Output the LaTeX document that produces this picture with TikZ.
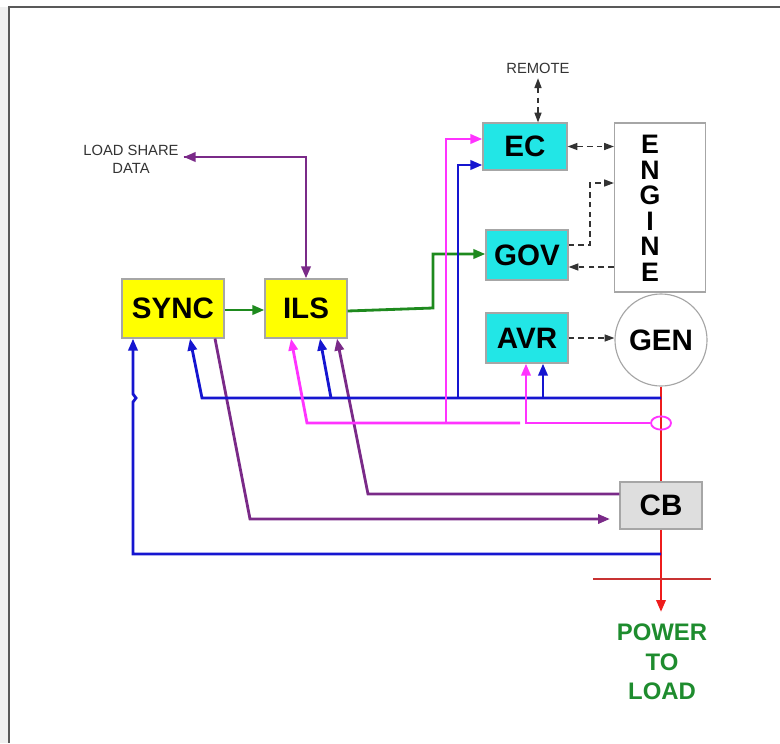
\documentclass[tikz,border=0pt]{standalone}
\usepackage{fontspec}
\setmainfont{Liberation Sans}
\usepackage{tikz}
\usetikzlibrary{arrows.meta, shapes.geometric, positioning, calc}
\definecolor{boxyellow}{HTML}{FFFF00}
\definecolor{boxcyan}{HTML}{22E6E6}
\definecolor{cbgray}{HTML}{DEDEDE}
\definecolor{sigblue}{HTML}{1515D0}
\definecolor{sigmag}{HTML}{FF33FF}
\definecolor{siggreen}{HTML}{1E8A1E}
\definecolor{sigpurp}{HTML}{7A2A88}
\definecolor{sigred}{HTML}{EE1C1C}
\definecolor{busred}{HTML}{C83232}
\definecolor{loadgreen}{HTML}{1E8C2E}
\tikzset{
  tip/.style={-{Triangle[length=8.5pt,width=6.5pt]}},
  dtip/.style={-{Triangle[length=7pt,width=5pt]}},
  ctrlbox/.style={draw=gray!70, line width=0.8pt, inner sep=0pt, font=\fontsize{21}{24}\selectfont\bfseries},
  sigline/.style={line width=2pt},
  dashline/.style={draw=black!80, line width=1pt, dash pattern=on 4pt off 3pt},
  smalltext/.style={font=\fontsize{10.5}{12.8}\selectfont, text=black!80, align=center},
  engletter/.style={font=\fontsize{19}{22}\selectfont\bfseries, inner sep=0pt, text height=13.6pt, text depth=0pt}
}
\begin{document}
\begin{tikzpicture}[x=0.025cm, y=-0.025cm]
\useasboundingbox (0,0) rectangle (780,743);
\fill[black!6] (0,7) rectangle (9,743);
\draw[black!65, line width=1.4pt] (780,7) -- (9,7) -- (9,743);

\node[ctrlbox, fill=boxyellow, minimum width=2.55cm, minimum height=1.475cm] (sync) at (173,308.5) {SYNC};
\node[ctrlbox, fill=boxyellow, minimum width=2.05cm, minimum height=1.475cm] (ils) at (306,308.5) {ILS};
\node[ctrlbox, fill=boxcyan, minimum width=2.1cm, minimum height=1.175cm] (ec) at (525,146.5) {EC};
\node[ctrlbox, fill=boxcyan, minimum width=2.05cm, minimum height=1.25cm] (gov) at (527,255) {GOV};
\node[ctrlbox, fill=boxcyan, minimum width=2.05cm, minimum height=1.25cm] (avr) at (527,338) {AVR};
\node[ctrlbox, fill=cbgray, minimum width=2.05cm, minimum height=1.175cm] (cb) at (661,505.5) {CB};
\node[draw=gray!70, line width=0.8pt, fill=white, minimum width=2.275cm, minimum height=4.225cm] (engine) at (660,207.5) {};
\foreach \ltr [count=\i] in {E,N,G,I,N,E}
  \node[engletter] (eng\i) at (650,{118.5+25.5*\i}) {\ltr};
\node[ctrlbox, circle, fill=white, minimum size=2.3cm] (gen) at (661,340) {GEN};
\node[smalltext] (remote) at (538,68) {REMOTE};
\node[smalltext] (lsd) at (131,159) {LOAD SHARE\\DATA};
\node[font=\fontsize{17}{21}\selectfont\bfseries, text=loadgreen, align=center] (power) at (662,662) {POWER\\TO\\LOAD};

\draw[sigline, sigred] (gen.south) -- (cb.north);
\draw[sigline, sigred, tip] (cb.south) -- (661,612);
\draw[line width=1.8pt, busred] (593,579) -- (711,579);
\node[draw=sigmag, line width=1.3pt, ellipse, minimum width=0.5cm, minimum height=0.25cm] (ct) at (661,423) {};

\draw[dashline, {Triangle[length=7pt,width=5pt]}-{Triangle[length=7pt,width=5pt]}] (remote.south -| 538,0) -- (ec.north -| 538,0);
\draw[dashline, {Triangle[length=7pt,width=5pt]}-{Triangle[length=7pt,width=5pt]}] (ec.east) -- (engine.west |- ec.east);
\draw[dashline, dtip] (gov.east |- 0,245) -- (590,245) -- (590,183) -- (engine.west |- 0,183);
\draw[dashline, dtip] (engine.west |- 0,267) -- (gov.east |- 0,267);
\draw[dashline, dtip] (avr.east) -- (gen.west |- avr.east);

\draw[sigline, siggreen, tip] (sync.east |- 0,310) -- (ils.west |- 0,310);
\draw[sigline, siggreen, tip] (ils.east |- 0,311) -- (433,308) -- (433,254) -- (gov.west |- 0,254);

\draw[sigline, sigpurp, tip] (lsd.east |- 0,157) -- (306,157) -- (ils.north);
\draw[sigline, sigpurp, tip] (306,157) -- (lsd.east |- 0,157);
\draw[sigline, sigpurp, tip] (sync.south -| 215,0) -- (250,519) -- (610,519);
\draw[sigline, sigpurp, tip] (cb.west |- 0,494) -- (368,494) -- (ils.south -| 337,0);

\draw[sigline, sigblue, tip] (661,398) -- (202,398) -- (sync.south -| 190,0);
\draw[sigline, sigblue, tip] (331,398) -- (ils.south -| 320,0);
\draw[sigline, sigblue, tip] (458,398) -- (458,165) -- (ec.west |- 0,165);
\draw[sigline, sigblue, tip] (543,398) -- (avr.south -| 543,0);
\draw[sigline, sigblue, tip] (661,554) -- (133,554) -- (133,402) -- (136,398) -- (133,394) -- (sync.south -| 133,0);

\draw[sigline, sigmag, tip] (ct.west) -- (526,423) -- (avr.south -| 526,0);
\draw[sigline, sigmag, tip] (520,423) -- (307,423) -- (ils.south -| 291,0);
\draw[sigline, sigmag, tip] (446,423) -- (446,139) -- (ec.west |- 0,139);
\end{tikzpicture}
\end{document}
